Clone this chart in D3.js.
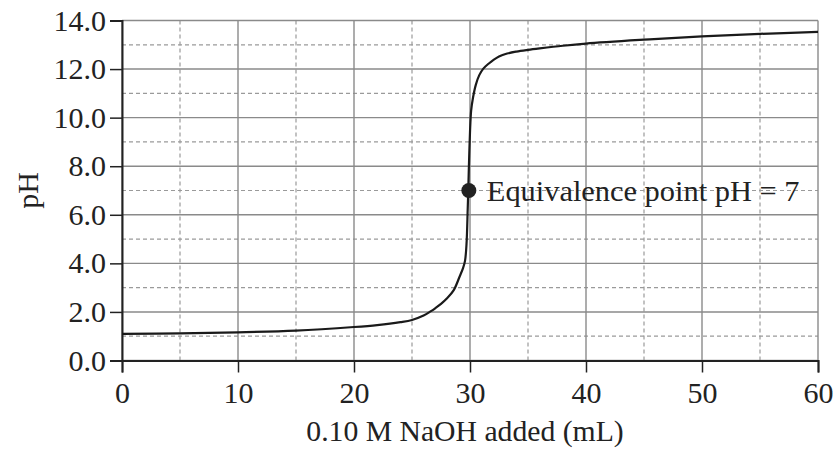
<!DOCTYPE html>
<html><head><meta charset="utf-8">
<script src="https://cdn.jsdelivr.net/npm/d3@7"></script>
<style>body{margin:0;background:#fff;} svg{display:block;}</style>
</head><body>
<svg id="chart" width="836" height="450"></svg>
<script>
// Titration data: volume of NaOH (mL) vs pH
const volume = [0, 5, 10, 15, 20, 22, 24, 25, 26, 26.6, 27, 27.5, 28, 28.6, 29.1, 29.4, 29.57, 29.7, 29.8, 29.85, 29.9, 30.0, 30.1, 30.25, 30.5, 30.8, 31.15, 31.6, 32, 32.5, 33.2, 34, 35, 36, 38, 40, 45, 50, 55, 60];
const pH     = [1.10, 1.12, 1.16, 1.23, 1.38, 1.46, 1.58, 1.67, 1.85, 2.02, 2.15, 2.33, 2.55, 2.9, 3.45, 3.8, 4.1, 4.8, 6.2, 7.0, 7.9, 9.4, 10.3, 10.8, 11.35, 11.75, 12.02, 12.22, 12.37, 12.52, 12.64, 12.72, 12.79, 12.85, 12.96, 13.05, 13.21, 13.35, 13.45, 13.53];
const xTicks = [0, 10, 20, 30, 40, 50, 60];
const xMinor = [5, 15, 25, 35, 45, 55];
const yTicks = [0, 2, 4, 6, 8, 10, 12, 14];
const yMinor = [1, 3, 5, 7, 9, 11, 13];
const eqPoint = {x: 29.9, y: 7, label: "Equivalence point pH = 7"};
const xTitle = "0.10 M NaOH added (mL)";
const yTitle = "pH";

const W = 836, H = 450;
const m = {left: 122, right: 18, top: 20.5, bottom: 89.5};
const svg = d3.select("#chart");
const font = "'Liberation Serif','Times New Roman',Times,serif";

const x = d3.scaleLinear().domain([0, 60]).range([m.left, W - m.right]);
const y = d3.scaleLinear().domain([0, 14]).range([H - m.bottom, m.top]);

const g = svg.append("g");
// minor dashed grid
g.selectAll(".vmin").data(xMinor).join("line")
  .attr("x1", d => x(d)).attr("x2", d => x(d)).attr("y1", y(0)).attr("y2", y(14))
  .attr("stroke", "#9a9a9a").attr("stroke-width", 1.2).attr("stroke-dasharray", "4,3");
g.selectAll(".hmin").data(yMinor).join("line")
  .attr("y1", d => y(d)).attr("y2", d => y(d)).attr("x1", x(0)).attr("x2", x(60))
  .attr("stroke", "#9a9a9a").attr("stroke-width", 1.2).attr("stroke-dasharray", "4,3");
// major solid grid
g.selectAll(".vmaj").data(xTicks).join("line")
  .attr("x1", d => x(d)).attr("x2", d => x(d)).attr("y1", y(0)).attr("y2", y(14))
  .attr("stroke", "#8a8a8a").attr("stroke-width", 1.4);
g.selectAll(".hmaj").data(yTicks).join("line")
  .attr("y1", d => y(d)).attr("y2", d => y(d)).attr("x1", x(0)).attr("x2", x(60))
  .attr("stroke", "#8a8a8a").attr("stroke-width", 1.4);

// axes
const xAxis = svg.append("g").attr("transform", `translate(0,${y(0)})`)
  .call(d3.axisBottom(x).tickValues(xTicks).tickSize(12).tickPadding(9).tickFormat(d3.format("d")));
const yAxis = svg.append("g").attr("transform", `translate(${x(0)},0)`)
  .call(d3.axisLeft(y).tickValues(yTicks).tickSize(12).tickPadding(4).tickFormat(d3.format(".1f")));
[xAxis, yAxis].forEach(a => {
  a.select(".domain").attr("stroke", "#222").attr("stroke-width", 2);
  a.selectAll(".tick line").attr("stroke", "#222").attr("stroke-width", 1.5);
  a.selectAll(".tick text").attr("fill", "#222").style("font-family", font).style("font-size", "30px");
});

// curve
const pts = volume.map((v, i) => [v, pH[i]]);
svg.append("path").datum(pts)
  .attr("fill", "none").attr("stroke", "#1a1a1a").attr("stroke-width", 2.2)
  .attr("d", d3.line().x(d => x(d[0])).y(d => y(d[1])).curve(d3.curveCatmullRom.alpha(0.5)));

// equivalence point
svg.append("circle").attr("cx", x(eqPoint.x)).attr("cy", y(eqPoint.y)).attr("r", 7.5).attr("fill", "#222");
svg.append("text").attr("x", x(eqPoint.x) + 18).attr("y", y(eqPoint.y) + 10)
  .attr("fill", "#222").style("font-family", font).style("font-size", "30.4px")
  .text(eqPoint.label);

// axis titles
svg.append("text").attr("x", 465).attr("y", 441).attr("text-anchor", "middle")
  .attr("fill", "#222").style("font-family", font).style("font-size", "29.7px").text(xTitle);
svg.append("text").attr("transform", `translate(38,${(y(0) + y(14)) / 2}) rotate(-90)`)
  .attr("text-anchor", "middle").attr("fill", "#222")
  .style("font-family", font).style("font-size", "30px").text(yTitle);
</script>
</body></html>
